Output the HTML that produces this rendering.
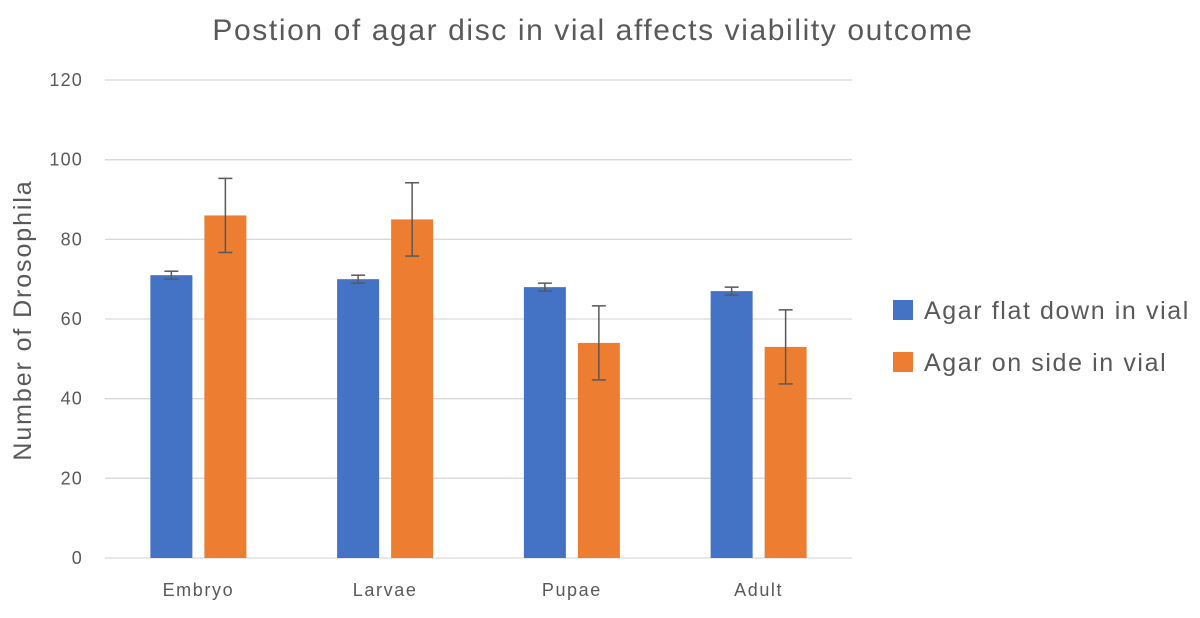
<!DOCTYPE html>
<html><head><meta charset="utf-8"><style>
body{margin:0;background:#fff;width:1200px;height:613px;overflow:hidden;font-family:"Liberation Sans",sans-serif;}
</style></head><body>
<svg id="chart" width="1200" height="613" xmlns="http://www.w3.org/2000/svg" font-family="Liberation Sans, sans-serif">
<text x="593" y="40" text-anchor="middle" font-size="30" letter-spacing="1.6" fill="#595959">Postion of agar disc in vial affects viability outcome</text>
<text transform="translate(31,320) rotate(-90)" text-anchor="middle" font-size="25" letter-spacing="1.9" fill="#595959">Number of Drosophila</text>
<g id="grid"></g><g id="bars"></g><g id="errs"></g><g id="labels"></g>
<g>
<rect x="893" y="300" width="20" height="20" fill="#4472C4"/>
<text x="924" y="319" font-size="25" letter-spacing="1.6" fill="#595959">Agar flat down in vial</text>
<rect x="893" y="352" width="20" height="20" fill="#ED7D31"/>
<text x="924" y="371" font-size="25" letter-spacing="1.6" fill="#595959">Agar on side in vial</text>
</g>
</svg>
<script>
const categories=["Embryo","Larvae","Pupae","Adult"];
const flatValues=[71,70,68,67];
const flatErrors=[1,1,1,1];
const sideValues=[86,85,54,53];
const sideErrors=[9.3,9.2,9.3,9.3];
const yTicks=[0,20,40,60,80,100,120];
const NS="http://www.w3.org/2000/svg";
const x0=105,x1=852,yB=558,yT=80,yMax=120;
const y=v=>yB-(v/yMax)*(yB-yT);
const cw=(x1-x0)/categories.length;
function mk(t,a,p){const e=document.createElementNS(NS,t);for(const k in a)e.setAttribute(k,a[k]);p.appendChild(e);return e;}
const grid=document.getElementById('grid'),bars=document.getElementById('bars'),errs=document.getElementById('errs'),labels=document.getElementById('labels');
yTicks.forEach(t=>{
 const l=mk('line',{x1:x0,x2:x1,y1:y(t),y2:y(t),stroke:'#D9D9D9','stroke-width':1.3},grid);
 
 
 const tx=mk('text',{x:83,y:y(t)+6,'text-anchor':'end','font-size':18,'letter-spacing':1.2,fill:'#595959'},labels);
 tx.textContent=t;
 
 
});
categories.forEach((c,i)=>{
 const cx=x0+cw*(i+0.5);
 [[flatValues,flatErrors,'#4472C4',-48,'flat'],[sideValues,sideErrors,'#ED7D31',6,'side']].forEach(([vals,errsA,col,off,nm])=>{
  const v=vals[i];
  const r=mk('rect',{x:cx+off,y:y(v),width:42,height:yB-y(v),fill:col},bars);
  
  
  const ex=cx+off+21,e=errsA[i];
  const g=mk('g',{stroke:'#595959','stroke-width':1.5},errs);
  
  
  mk('line',{x1:ex,x2:ex,y1:y(v+e),y2:y(v-e)},g);
  mk('line',{x1:ex-7,x2:ex+7,y1:y(v+e),y2:y(v+e)},g);
  mk('line',{x1:ex-7,x2:ex+7,y1:y(v-e),y2:y(v-e)},g);
 });
 const t=mk('text',{x:cx,y:596,'text-anchor':'middle','font-size':18,'letter-spacing':1.6,fill:'#595959'},labels);
 t.textContent=c;
 
 
});
</script>
</body></html>
